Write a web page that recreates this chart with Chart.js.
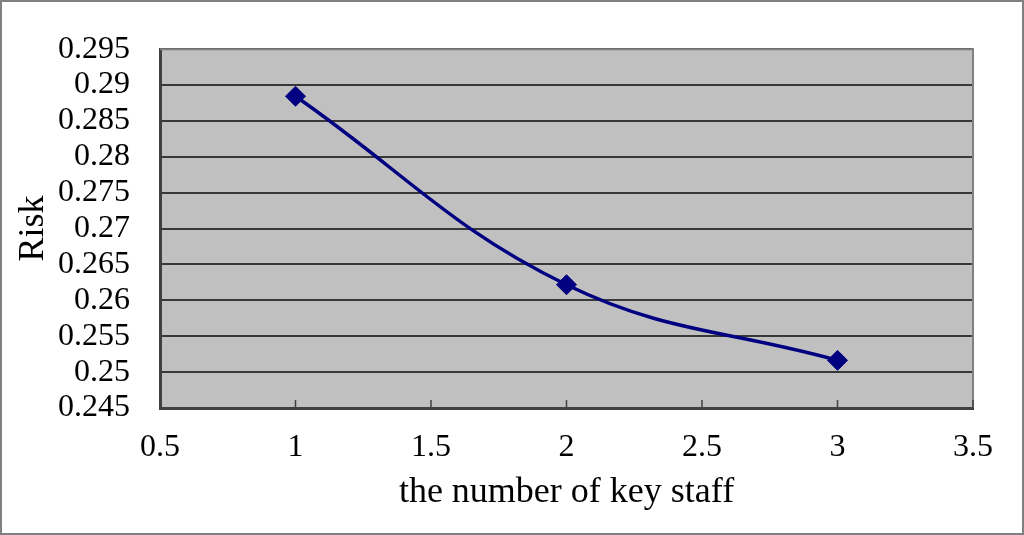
<!DOCTYPE html>
<html>
<head>
<meta charset="utf-8">
<script src="https://cdn.jsdelivr.net/npm/chart.js@4/dist/chart.umd.min.js"></script>
<style>
  html, body { margin: 0; padding: 0; background: #fff; }
  #wrap { width: 1024px; height: 535px; position: relative; }
</style>
</head>
<body>
<div id="wrap"><canvas id="risk-chart" width="1024" height="535"></canvas></div>
<script>
// dados
const keyStaff = [1, 2, 3];
const riskValues = [0.28844, 0.26218, 0.25164];
const xMin = 0.5, xMax = 3.5, xStep = 0.5;
const yMin = 0.245, yMax = 0.295, yStep = 0.005;

const serif = "'Liberation Serif', 'Times New Roman', serif";

// fundo cinza da área de plotagem + moldura externa + ticks internos no eixo x
const plotDecor = {
  id: 'plotDecor',
  beforeDraw(chart) {
    const { ctx, chartArea: a } = chart;
    ctx.save();
    ctx.fillStyle = '#c0c0c0';
    ctx.fillRect(a.left, a.top, a.right - a.left, a.bottom - a.top);
    ctx.restore();
  },
  beforeDatasetsDraw(chart) {
    const { ctx, chartArea: a, scales } = chart;
    ctx.save();
    ctx.strokeStyle = '#808080';
    ctx.lineWidth = 2;
    ctx.beginPath();
    ctx.moveTo(a.left, a.top);
    ctx.lineTo(a.right, a.top);
    ctx.lineTo(a.right, a.bottom);
    ctx.stroke();
    // ticks internos
    ctx.strokeStyle = '#404040';
    ctx.lineWidth = 1.5;
    scales.x.ticks.forEach((t) => {
      const px = scales.x.getPixelForValue(t.value);
      ctx.beginPath();
      ctx.moveTo(px, a.bottom);
      ctx.lineTo(px, a.bottom - 8);
      ctx.stroke();
    });
    ctx.restore();
  },
  afterDraw(chart) {
    const { ctx, width, height } = chart;
    ctx.save();
    ctx.strokeStyle = '#808080';
    ctx.lineWidth = 2;
    ctx.strokeRect(1, 1, width - 2, height - 2);
    ctx.restore();
  },
};

const fmt = (v) => String(parseFloat(Number(v).toFixed(3)));

new Chart(document.getElementById('risk-chart'), {
  type: 'scatter',
  data: {
    datasets: [
      {
        data: keyStaff.map((x, i) => ({ x, y: riskValues[i] })),
        showLine: true,
        borderColor: '#000080',
        backgroundColor: '#000080',
        borderWidth: 3.5,
        tension: 0.4,
        pointStyle: 'rectRot',
        pointRadius: 10,
        pointBorderWidth: 1,
        pointBorderColor: '#000080',
        pointBackgroundColor: '#000080',
      },
    ],
  },
  options: {
    responsive: false,
    animation: false,
    layout: { padding: { top: 49, right: 51, left: 0, bottom: 0 } },
    plugins: { legend: { display: false }, tooltip: { enabled: false } },
    scales: {
      x: {
        type: 'linear',
        min: xMin,
        max: xMax,
        afterFit(scale) { scale.height = 127; },
        ticks: {
          stepSize: xStep,
          autoSkip: false,
          maxRotation: 0,
          padding: 20,
          color: '#000',
          font: { family: serif, size: 32 },
          callback: fmt,
        },
        grid: { display: false, drawTicks: false },
        border: { display: true, color: '#404040', width: 3 },
        title: {
          display: true,
          text: 'the number of key staff',
          color: '#000',
          font: { family: serif, size: 36 },
          padding: { top: 0, bottom: 21 },
        },
      },
      y: {
        type: 'linear',
        min: yMin,
        max: yMax,
        afterFit(scale) { scale.width = 160; },
        ticks: {
          stepSize: yStep,
          autoSkip: false,
          padding: 30,
          color: '#000',
          font: { family: serif, size: 32 },
          callback: fmt,
        },
        grid: { color: '#383838', lineWidth: 2, drawTicks: false },
        border: { display: true, color: '#404040', width: 3 },
        title: {
          display: true,
          text: 'Risk',
          color: '#000',
          font: { family: serif, size: 36 },
          padding: { top: 12, bottom: 0 },
        },
      },
    },
  },
  plugins: [plotDecor],
});
</script>
</body>
</html>
